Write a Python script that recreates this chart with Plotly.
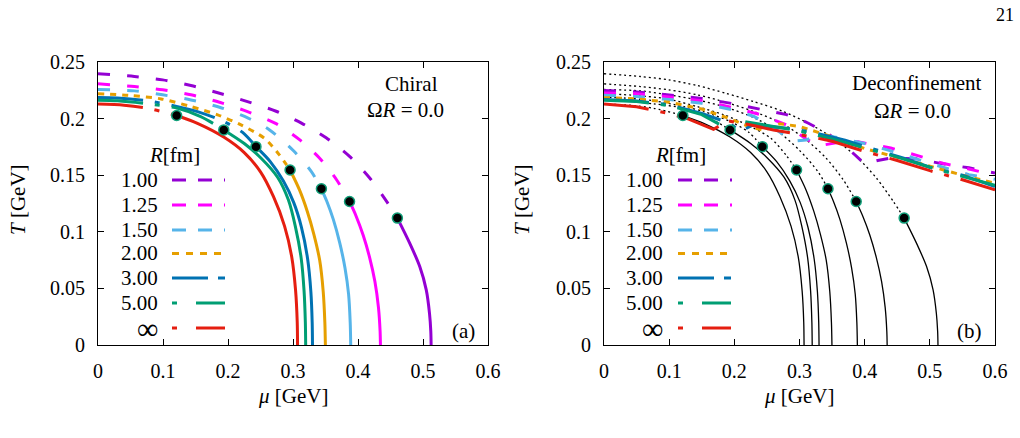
import plotly.graph_objects as go

# ---------------- data ----------------
R_labels = ["1.00", "1.25", "1.50", "2.00", "3.00", "5.00", "∞"]
colors = ["#9400d3", "#ff00ff", "#56b4e9", "#e69f00", "#0072b2", "#009e73", "#e51e10"]

x_tickvals = [0, 0.1, 0.2, 0.3, 0.4, 0.5, 0.6]
x_ticktext = ["0", "0.1", "0.2", "0.3", "0.4", "0.5", "0.6"]
y_tickvals = [0, 0.05, 0.1, 0.15, 0.2, 0.25]
y_ticktext = ["0", "0.05", "0.1", "0.15", "0.2", "0.25"]

# chiral crossover (mu from 0 to CEP)
cross_mu = [
    [0, 0.056, 0.0995, 0.143, 0.187, 0.230, 0.274, 0.313, 0.351, 0.387, 0.418, 0.444, 0.4606],
    [0, 0.056, 0.0995, 0.143, 0.187, 0.230, 0.274, 0.310, 0.341, 0.367, 0.387],
    [0, 0.056, 0.0995, 0.143, 0.187, 0.231, 0.264, 0.300, 0.328, 0.3437],
    [0, 0.051, 0.097, 0.143, 0.184, 0.220, 0.256, 0.279, 0.2955],
    [0, 0.03, 0.0765, 0.1226, 0.153, 0.194, 0.222, 0.243],
    [0, 0.03, 0.0765, 0.1226, 0.158, 0.1935],
    [0, 0.04, 0.0765, 0.121],
]
cross_T = [
    [0.2396, 0.2372, 0.2342, 0.2292, 0.2224, 0.215, 0.2065, 0.196, 0.183, 0.1666, 0.1475, 0.1268, 0.1121],
    [0.2307, 0.2283, 0.2254, 0.221, 0.2144, 0.2062, 0.1955, 0.1814, 0.165, 0.146, 0.1268],
    [0.2257, 0.2245, 0.221, 0.2165, 0.210, 0.2005, 0.190, 0.172, 0.1534, 0.138],
    [0.222, 0.2204, 0.2174, 0.2106, 0.2033, 0.1944, 0.1826, 0.168, 0.1546],
    [0.2186, 0.2182, 0.2157, 0.2106, 0.2062, 0.1973, 0.188, 0.1752],
    [0.2162, 0.2157, 0.213, 0.2091, 0.2018, 0.190],
    [0.2128, 0.2118, 0.2091, 0.2027],
]
# chiral first-order (CEP to T=0)
fo_mu = [
    [0.4606, 0.4795, 0.495, 0.505, 0.510, 0.512, 0.5125],
    [0.387, 0.397, 0.408, 0.418, 0.426, 0.4315, 0.434, 0.4345],
    [0.3437, 0.352, 0.362, 0.372, 0.380, 0.3855, 0.388, 0.3888],
    [0.2955, 0.310, 0.322, 0.332, 0.341, 0.3465, 0.349, 0.3498],
    [0.243, 0.265, 0.285, 0.301, 0.313, 0.3225, 0.3275, 0.3295, 0.330],
    [0.1935, 0.225, 0.251, 0.2765, 0.293, 0.3035, 0.3125, 0.317, 0.319, 0.3195],
    [0.121, 0.153, 0.194, 0.225, 0.250, 0.270, 0.287, 0.298, 0.304, 0.3065, 0.307],
]
fo_T = [
    [0.1121, 0.090, 0.0693, 0.0487, 0.028, 0.012, 0],
    [0.1268, 0.114, 0.097, 0.077, 0.056, 0.033, 0.012, 0],
    [0.138, 0.127, 0.111, 0.090, 0.068, 0.045, 0.02, 0],
    [0.1546, 0.137, 0.118, 0.098, 0.075, 0.047, 0.02, 0],
    [0.1752, 0.162, 0.145, 0.126, 0.104, 0.076, 0.047, 0.02, 0],
    [0.190, 0.178, 0.165, 0.148, 0.128, 0.105, 0.077, 0.048, 0.02, 0],
    [0.2027, 0.1958, 0.1835, 0.170, 0.153, 0.131, 0.105, 0.078, 0.048, 0.02, 0],
]
cep_mu = [0.4606, 0.387, 0.3437, 0.2955, 0.243, 0.1935, 0.121]
cep_T = [0.1121, 0.1268, 0.138, 0.1546, 0.1752, 0.190, 0.2027]

# deconfinement lines
dec_mu = [
    [0, 0.05, 0.1, 0.15, 0.2, 0.24, 0.28, 0.31, 0.34, 0.37, 0.40, 0.42, 0.44, 0.48, 0.52, 0.56, 0.6],
    [0, 0.05, 0.1, 0.15, 0.2, 0.24, 0.28, 0.31, 0.33, 0.36, 0.39, 0.44, 0.48, 0.52, 0.56, 0.6],
    [0, 0.05, 0.1, 0.15, 0.2, 0.23, 0.26, 0.29, 0.31, 0.33, 0.36, 0.40, 0.44, 0.48, 0.52, 0.56, 0.6],
    [0, 0.05, 0.1, 0.15, 0.19, 0.22, 0.245, 0.27, 0.3, 0.35, 0.40, 0.45, 0.5, 0.55, 0.6],
    [0, 0.05, 0.1, 0.15, 0.19, 0.21, 0.23, 0.28, 0.32, 0.37, 0.42, 0.46, 0.5, 0.55, 0.6],
    [0, 0.05, 0.1, 0.15, 0.19, 0.215, 0.26, 0.3, 0.35, 0.4, 0.45, 0.5, 0.55, 0.6],
    [0, 0.05, 0.1, 0.13, 0.168, 0.19, 0.22, 0.26, 0.3, 0.35, 0.4, 0.45, 0.5, 0.55, 0.6],
]
dec_T = [
    [0.2249, 0.2236, 0.2208, 0.2178, 0.213, 0.2085, 0.2035, 0.197, 0.188, 0.176, 0.160, 0.163, 0.1652, 0.1645, 0.160, 0.1565, 0.152],
    [0.2227, 0.222, 0.2192, 0.2158, 0.2095, 0.2035, 0.1945, 0.182, 0.176, 0.179, 0.1795, 0.174, 0.1675, 0.1605, 0.1555, 0.150],
    [0.2206, 0.2195, 0.2168, 0.2135, 0.2075, 0.202, 0.192, 0.180, 0.181, 0.186, 0.183, 0.178, 0.1715, 0.164, 0.157, 0.1505, 0.1465],
    [0.2185, 0.2175, 0.2145, 0.2085, 0.2005, 0.1935, 0.1895, 0.1955, 0.193, 0.184, 0.1735, 0.166, 0.158, 0.150, 0.143],
    [0.2168, 0.2155, 0.2123, 0.2045, 0.1965, 0.189, 0.1947, 0.1915, 0.188, 0.181, 0.172, 0.165, 0.157, 0.150, 0.140],
    [0.2162, 0.215, 0.2115, 0.2035, 0.191, 0.1975, 0.193, 0.189, 0.182, 0.174, 0.166, 0.157, 0.149, 0.141],
    [0.213, 0.2105, 0.2045, 0.1995, 0.1905, 0.198, 0.195, 0.190, 0.186, 0.180, 0.171, 0.163, 0.154, 0.146, 0.137],
]

# ---------------- styles ----------------
plot_dash = ["12px,17px", "12px,17px", "12px,17px", "6px,6px",
             "45px,12px,5px,12px", "45px,12px,5px,12px", "45px,12px,5px,12px"]
legend_dash = ["14px,12px", "14px,12px", "14px,12px", "7px,7px",
               "36px,10px,7px,10px", "5px,19px,29px,10px", "5px,19px,29px,10px"]
FONT = "Liberation Serif"
W, H = 1020, 438
ML, MR, MT, MB = 98, 25, 62, 93
PW, PH = W - ML - MR, H - MT - MB


def px(x):
    return (x - ML) / PW


def py(y):
    return (H - MB - y) / PH


fig = go.Figure()

# left panel: chiral
for i in range(7):
    fig.add_trace(go.Scatter(x=cross_mu[i], y=cross_T[i], mode="lines",
                             line=dict(color=colors[i], width=3, dash=plot_dash[i], shape="spline", smoothing=0.8),
                             showlegend=False, hoverinfo="skip", xaxis="x", yaxis="y"))
    fig.add_trace(go.Scatter(x=fo_mu[i], y=fo_T[i], mode="lines",
                             line=dict(color=colors[i], width=3, shape="spline", smoothing=0.8),
                             showlegend=False, hoverinfo="skip", xaxis="x", yaxis="y"))
fig.add_trace(go.Scatter(x=cep_mu, y=cep_T, mode="markers",
                         marker=dict(color="black", size=10, line=dict(color="#12a07a", width=1.5)),
                         showlegend=False, hoverinfo="skip", xaxis="x", yaxis="y"))

# right panel: black chiral lines + deconfinement
for i in range(7):
    fig.add_trace(go.Scatter(x=cross_mu[i], y=cross_T[i], mode="lines",
                             line=dict(color="black", width=1.3, dash="2px,3px", shape="spline", smoothing=0.8),
                             showlegend=False, hoverinfo="skip", xaxis="x2", yaxis="y2"))
    fig.add_trace(go.Scatter(x=fo_mu[i], y=fo_T[i], mode="lines",
                             line=dict(color="black", width=1.3, shape="spline", smoothing=0.8),
                             showlegend=False, hoverinfo="skip", xaxis="x2", yaxis="y2"))
for i in range(7):
    fig.add_trace(go.Scatter(x=dec_mu[i], y=dec_T[i], mode="lines",
                             line=dict(color=colors[i], width=3, dash=plot_dash[i]),
                             showlegend=False, hoverinfo="skip", xaxis="x2", yaxis="y2"))
fig.add_trace(go.Scatter(x=cep_mu, y=cep_T, mode="markers",
                         marker=dict(color="black", size=10, line=dict(color="#12a07a", width=1.5)),
                         showlegend=False, hoverinfo="skip", xaxis="x2", yaxis="y2"))

axis_common = dict(showline=True, linecolor="black", linewidth=1, mirror="ticks",
                   ticks="inside", ticklen=6, tickcolor="black", tickwidth=1,
                   showgrid=False, zeroline=False, ticklabelstandoff=8,
                   tickfont=dict(family=FONT, size=20, color="black"))

fig.update_layout(
    width=W, height=H, margin=dict(l=ML, r=MR, t=MT, b=MB),
    paper_bgcolor="white", plot_bgcolor="white", showlegend=False,
    xaxis=dict(domain=[0, px(488)], range=[0, 0.6], tickvals=x_tickvals, ticktext=x_ticktext, anchor="y", **axis_common),
    yaxis=dict(domain=[0, 1], range=[0, 0.25], tickvals=y_tickvals, ticktext=y_ticktext, anchor="x", **axis_common),
    xaxis2=dict(domain=[px(604), 1], range=[0, 0.6], tickvals=x_tickvals, ticktext=x_ticktext, anchor="y2", **axis_common),
    yaxis2=dict(domain=[0, 1], range=[0, 0.25], tickvals=y_tickvals, ticktext=y_ticktext, anchor="x2", **axis_common),
)

ann = []


def text(x, y, s, size=21, xanchor="center", angle=0):
    ann.append(dict(x=px(x), y=py(y), xref="paper", yref="paper", text=s, showarrow=False,
                    xanchor=xanchor, yanchor="middle", textangle=angle,
                    font=dict(family=FONT, size=size, color="black")))


text(411, 84, "Chiral")
text(405, 110, "Ω<i>R</i> = 0.0")
text(917, 83, "Deconfinement")
text(912, 111, "Ω<i>R</i> = 0.0")
text(174, 155, "<i>R</i>[fm]")
text(680, 155, "<i>R</i>[fm]")
text(463, 331, "(a)")
text(969, 331, "(b)")
text(293, 396, "<i>μ</i> [GeV]")
text(799, 396, "<i>μ</i> [GeV]")
text(18, 200, "<i>T</i> [GeV]", angle=-90)
text(522, 200, "<i>T</i> [GeV]", angle=-90)
text(1005, 15, "21", size=18)

row_y = [180, 205, 230, 253.5, 278, 303, 328]
shapes = []
for i in range(7):
    for lab_x, x0, x1 in [(160, 172, 225), (665, 678, 732)]:
        size = 30 if R_labels[i] == "∞" else 21
        text(lab_x, row_y[i], R_labels[i], size=size, xanchor="right")
        shapes.append(dict(type="line", xref="paper", yref="paper",
                           x0=px(x0), x1=px(x1), y0=py(row_y[i]), y1=py(row_y[i]),
                           line=dict(color=colors[i], width=3, dash=legend_dash[i])))

fig.update_layout(annotations=ann, shapes=shapes)
fig.write_html("out.html")
